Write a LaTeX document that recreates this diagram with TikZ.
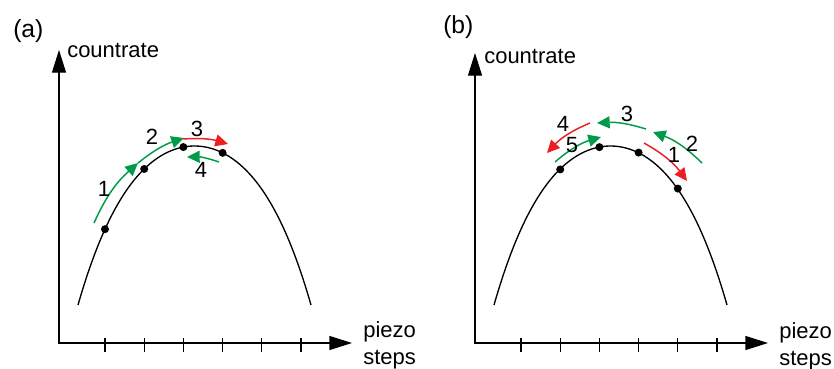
\documentclass[tikz,border=0pt]{standalone}
\usepackage{fontspec}
\setmainfont{Liberation Sans}
\usetikzlibrary{positioning,arrows.meta,calc}
\definecolor{movegreen}{RGB}{0,155,72}
\definecolor{movered}{RGB}{236,30,36}

\begin{document}
\begin{tikzpicture}[
  x=0.75pt, y=-0.75pt,
  declare function={peak(\u)=146+84.68*(\u/100)^2+23.93*(\u/100)^4;},
  axis/.style={line width=1pt, line join=miter, {Triangle[length=17pt,width=10.5pt]}-{Triangle[length=17pt,width=10.5pt]}},
  tickmark/.style={line width=0.9pt},
  curve/.style={line width=1pt},
  dot/.style={circle, fill=black, inner sep=0pt, minimum size=6pt},
  move/.style={line width=1.1pt, -{Triangle[length=9.5pt,width=9pt]}},
  up/.style={move, movegreen},
  down/.style={move, movered},
  lbl/.style={font=\fontsize{16.5}{19}\selectfont, inner sep=0pt},
  tag/.style={font=\fontsize{18.5}{22}\selectfont, inner sep=0pt, anchor=base west}
]
\useasboundingbox (0,0) rectangle (834,368);

% axes, ticks and curve of both panels
\foreach \o/\t in {0/50,416/53}{
  \draw[axis] (59+\o,\t) -- (59+\o,343) -- (352+\o,343);
  \foreach \i in {1,...,6}
    \draw[tickmark] ({59+\o+46+39.2*(\i-1)},338) -- ++(0,14);
  \draw[curve] plot[domain=-116.5:116.5, samples=80, smooth] ({194.5+\o+\x},{peak(\x)});
}

% panel (a)
\node[tag] (taga) at (13,37) {(a)};
\node[lbl, anchor=base west] (ya) at (67,57) {countrate};
\node[lbl, anchor=base west] (xa) at (363,337) {piezo};
\node[lbl, anchor=base west] (xa2) at ($(xa.base west)+(0,27)$) {steps};
\foreach \n/\x in {1/105,2/144.2,3/183.4,4/222.6}
  \node[dot] (a\n) at (\x,{peak(\x-194.5)}) {};
\draw[up] (94,223) to[bend left=12] (138,163);
\draw[up] (138,163) to[bend left=10] (184,138);
\draw[down] (183,139) to[bend left=10] (228,144);
\draw[up] (219,162) to[bend right=10] (187,157);
\node[lbl] (na1) at (104,189) {1};
\node[lbl] (na2) at (152,137) {2};
\node[lbl] (na3) at (197,129) {3};
\node[lbl] (na4) at (201,170) {4};

% panel (b)
\node[tag] (tagb) at (443,33) {(b)};
\node[lbl, anchor=base west] (yb) at (484,63) {countrate};
\node[lbl, anchor=base west] (xb) at (779,338) {piezo};
\node[lbl, anchor=base west] (xb2) at ($(xb.base west)+(0,27)$) {steps};
\foreach \n/\x in {1/560.2,2/599.4,3/638.6,4/677.8}
  \node[dot] (b\n) at (\x,{peak(\x-611)}) {};
\draw[down] (644,143) to[bend left=12] (687,181);
\draw[up] (702,163) to[bend right=12] (653,132);
\draw[up] (646,129) to[bend right=10] (597,123);
\draw[down] (590,123) to[bend right=12] (547,153);
\draw[up] (555,162) to[bend left=12] (601,137);
\node[lbl] (nb1) at (674,155) {1};
\node[lbl] (nb2) at (692,144) {2};
\node[lbl] (nb3) at (627,114) {3};
\node[lbl] (nb4) at (563,124) {4};
\node[lbl] (nb5) at (572,145) {5};
\end{tikzpicture}
\end{document}
